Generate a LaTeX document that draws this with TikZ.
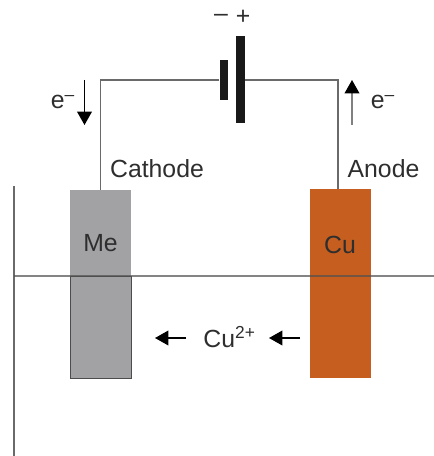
\documentclass[tikz,border=0pt]{standalone}
\usepackage{fontspec}
\setmainfont{Liberation Sans}
\usetikzlibrary{arrows.meta}
\definecolor{metal}{HTML}{A2A2A4}
\definecolor{copper}{HTML}{C55E1E}
\definecolor{wire}{HTML}{6A6A6A}
\definecolor{level}{HTML}{505050}
\definecolor{txt}{HTML}{2E2E2E}
\tikzset{
  x=0.75pt,y=-0.75pt,
  wireline/.style={draw=wire,line width=1.1pt},
  plate/.style={fill=black!90,draw=none,minimum width=6.5pt,inner sep=0pt},
  electrode/.style={draw=none,minimum width=45.75pt,inner sep=0pt},
  lbl/.style={text=txt,font=\fontsize{18.6pt}{20pt}\selectfont,inner sep=0pt},
  flow/.style={line width=1.1pt,-{Triangle[length=10pt,width=11pt,color=black,fill=black]}},
}
\begin{document}
\begin{tikzpicture}
\useasboundingbox (0,0) rectangle (434,456);
% electrodes
\node[electrode,fill=metal,minimum height=64.5pt] (meTop) at (100.5,233) {};
\node[electrode,fill=metal,draw=black!70,line width=0.7pt,minimum height=76.5pt] (meBot) at (100.5,327) {};
\node[electrode,fill=copper,minimum height=141.75pt] (cu) at (340.5,283.5) {};
% tank
\coordinate (tankTop) at (14,186);
\coordinate (tankBot) at (14,456);
\coordinate (levelL) at (14,276);
\coordinate (levelR) at (434,276);
\draw[draw=wire,line width=1.1pt] (tankTop) -- (tankBot);
\draw[draw=level,draw opacity=0.7,line width=1.6pt] (levelL) -- (levelR);
% battery
\node[plate,minimum height=30pt] (neg) at (224,80) {};
\node[plate,minimum height=65.25pt] (pos) at (240.5,80) {};
\draw[wireline] (neg.west) -- (100.5,80) -- (meTop.north);
\draw[wireline] (pos.east) -- (338,80) -- (338,189);
\node[lbl] (minus) at (221,18) {–};
\node[lbl] (plus) at (243,17) {+};
% electron arrows
\coordinate (eLa) at (84.5,80);
\coordinate (eLb) at (84.5,125);
\coordinate (eRa) at (352,125);
\coordinate (eRb) at (352,80);
\draw[flow,draw=black] (eLa) -- (eLb);
\draw[flow,draw=black!50] (eRa) -- (eRb);
\node[lbl] (eL) at (63,102) {e\textsuperscript{–}};
\node[lbl] (eR) at (383,102) {e\textsuperscript{–}};
% labels
\node[lbl] (cath) at (157,169) {Cathode};
\node[lbl] (an) at (383.5,169) {Anode};
\node[lbl] (me) at (100.5,243.5) {Me};
\node[lbl] (culab) at (340,244.5) {Cu};
% ions
\node[lbl] (ion) at (229.5,337) {Cu\textsuperscript{2+}};
\coordinate (ia) at (186,338);
\coordinate (ib) at (155,338);
\coordinate (ic) at (300,338);
\coordinate (id) at (269,338);
\draw[flow,draw=black] (ia) -- (ib);
\draw[flow,draw=black] (ic) -- (id);
\end{tikzpicture}
\end{document}
